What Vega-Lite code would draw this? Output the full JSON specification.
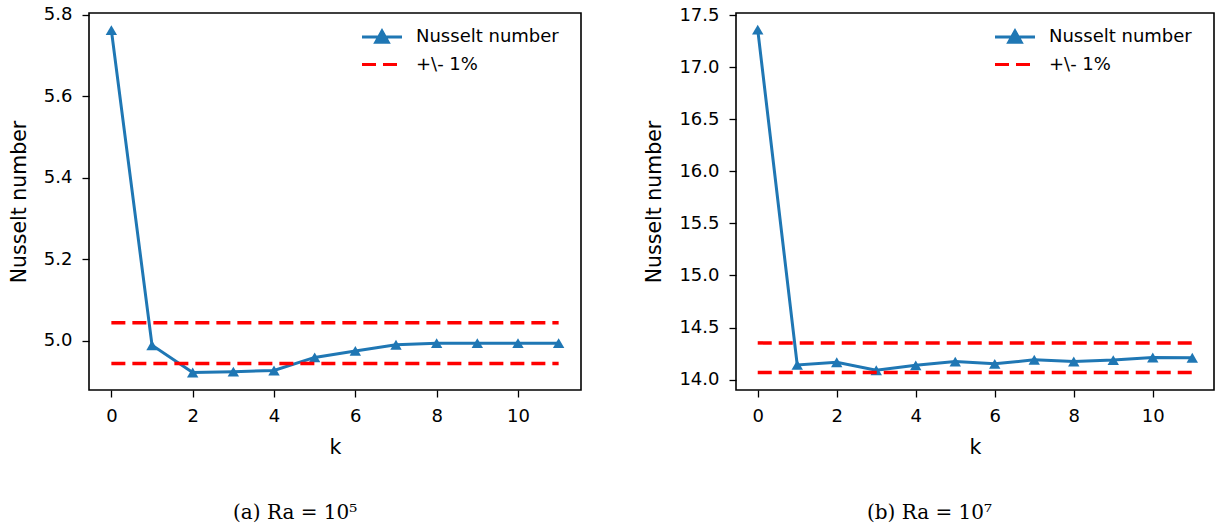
{
  "$schema": "https://vega.github.io/schema/vega-lite/v6.json",
  "padding": {"left": 8, "top": 5, "right": 0, "bottom": 0},
  "background": "white",
  "spacing": 62,
  "resolve": {"scale": {"color": "independent", "x": "independent", "y": "independent"}, "legend": {"color": "independent"}},
  "config": {
    "font": "DejaVu Sans",
    "view": {"stroke": "black", "strokeWidth": 1.6},
    "axis": {"grid": false, "domain": false, "tickColor": "black", "tickSize": 7, "tickWidth": 1.3, "labelFont": "DejaVu Sans", "labelFontSize": 18, "labelColor": "black", "labelPadding": 10, "titleFont": "DejaVu Sans", "titleFontSize": 20.5, "titleFontWeight": "normal", "titleColor": "black"},
    "legend": {"labelFont": "DejaVu Sans", "labelFontSize": 18, "labelColor": "black"}
  },
  "datasets": {
    "nuA": [
      {"k": 0, "nu": 5.7625, "series": "Nusselt number"},
      {"k": 1, "nu": 4.989, "series": "Nusselt number"},
      {"k": 2, "nu": 4.922, "series": "Nusselt number"},
      {"k": 3, "nu": 4.924, "series": "Nusselt number"},
      {"k": 4, "nu": 4.927, "series": "Nusselt number"},
      {"k": 5, "nu": 4.959, "series": "Nusselt number"},
      {"k": 6, "nu": 4.975, "series": "Nusselt number"},
      {"k": 7, "nu": 4.990, "series": "Nusselt number"},
      {"k": 8, "nu": 4.994, "series": "Nusselt number"},
      {"k": 9, "nu": 4.994, "series": "Nusselt number"},
      {"k": 10, "nu": 4.994, "series": "Nusselt number"},
      {"k": 11, "nu": 4.994, "series": "Nusselt number"}
    ],
    "bandA": [
      {"k0": 0, "k1": 11, "level": 5.044, "series": "+\\- 1%"},
      {"k0": 0, "k1": 11, "level": 4.944, "series": "+\\- 1%"}
    ],
    "nuB": [
      {"k": 0, "nu": 17.36, "series": "Nusselt number"},
      {"k": 1, "nu": 14.141, "series": "Nusselt number"},
      {"k": 2, "nu": 14.167, "series": "Nusselt number"},
      {"k": 3, "nu": 14.09, "series": "Nusselt number"},
      {"k": 4, "nu": 14.137, "series": "Nusselt number"},
      {"k": 5, "nu": 14.173, "series": "Nusselt number"},
      {"k": 6, "nu": 14.151, "series": "Nusselt number"},
      {"k": 7, "nu": 14.19, "series": "Nusselt number"},
      {"k": 8, "nu": 14.174, "series": "Nusselt number"},
      {"k": 9, "nu": 14.187, "series": "Nusselt number"},
      {"k": 10, "nu": 14.212, "series": "Nusselt number"},
      {"k": 11, "nu": 14.21, "series": "Nusselt number"}
    ],
    "bandB": [
      {"k0": 0, "k1": 11, "level": 14.352, "series": "+\\- 1%"},
      {"k0": 0, "k1": 11, "level": 14.068, "series": "+\\- 1%"}
    ]
  },
  "hconcat": [
    {
      "width": 492,
      "height": 377,
      "title": {"text": "(a) Ra = 10⁵", "orient": "bottom", "anchor": "middle", "frame": "bounds", "font": "DejaVu Serif", "fontSize": 20, "fontWeight": "normal", "color": "black", "offset": 45},
      "layer": [
        {
          "data": {"name": "nuA"},
          "mark": {"type": "line", "strokeWidth": 3},
          "encoding": {
            "x": {"field": "k", "type": "quantitative", "scale": {"domain": [-0.55, 11.55], "nice": false, "zero": false}, "axis": {"values": [0, 2, 4, 6, 8, 10], "title": "k", "titlePadding": 12}},
            "y": {"field": "nu", "type": "quantitative", "scale": {"domain": [4.879, 5.8045], "nice": false, "zero": false}, "axis": {"values": [5.0, 5.2, 5.4, 5.6, 5.8], "format": ".1f", "title": "Nusselt number", "titlePadding": 14}},
            "color": {"field": "series", "type": "nominal", "scale": {"domain": ["Nusselt number", "+\\- 1%"], "range": ["#1f77b4", "#ff0000"]},
              "legend": {"title": null, "orient": "none", "legendX": 299, "legendY": 15, "symbolSize": 100, "symbolStrokeWidth": 3, "rowPadding": 6.5, "labelOffset": 10,
                "encode": {"symbols": {"update": {
                  "shape": {"signal": "datum.value === 'Nusselt number' ? 'M-7,0L1,0M-4.25,1.05L-3,-1.2L-1.75,1.05Z' : 'M-7,0L1,0'"},
                  "strokeDash": {"signal": "datum.value === 'Nusselt number' ? [1,0] : [14,7]"},
                  "fill": {"signal": "datum.value === 'Nusselt number' ? '#1f77b4' : 'transparent'"},
                  "stroke": {"signal": "datum.value === 'Nusselt number' ? '#1f77b4' : '#ff0000'"},
                  "opacity": {"value": 1}
                }}}}}
          }
        },
        {
          "data": {"name": "nuA"},
          "mark": {"type": "point", "shape": "triangle-up", "filled": true, "size": 130, "opacity": 1},
          "encoding": {
            "x": {"field": "k", "type": "quantitative"},
            "y": {"field": "nu", "type": "quantitative"},
            "color": {"field": "series", "type": "nominal"}
          }
        },
        {
          "data": {"name": "bandA"},
          "mark": {"type": "rule", "strokeWidth": 3.5, "strokeDash": [14, 7]},
          "encoding": {
            "x": {"field": "k0", "type": "quantitative"},
            "x2": {"field": "k1"},
            "y": {"field": "level", "type": "quantitative"},
            "color": {"field": "series", "type": "nominal"}
          }
        }
      ]
    },
    {
      "width": 478,
      "height": 377,
      "title": {"text": "(b) Ra = 10⁷", "orient": "bottom", "anchor": "middle", "frame": "bounds", "font": "DejaVu Serif", "fontSize": 20, "fontWeight": "normal", "color": "black", "offset": 45},
      "layer": [
        {
          "data": {"name": "nuB"},
          "mark": {"type": "line", "strokeWidth": 3},
          "encoding": {
            "x": {"field": "k", "type": "quantitative", "scale": {"domain": [-0.55, 11.55], "nice": false, "zero": false}, "axis": {"values": [0, 2, 4, 6, 8, 10], "title": "k", "titlePadding": 12}},
            "y": {"field": "nu", "type": "quantitative", "scale": {"domain": [13.9, 17.52], "nice": false, "zero": false}, "axis": {"values": [14.0, 14.5, 15.0, 15.5, 16.0, 16.5, 17.0, 17.5], "format": ".1f", "title": "Nusselt number", "titlePadding": 14}},
            "color": {"field": "series", "type": "nominal", "scale": {"domain": ["Nusselt number", "+\\- 1%"], "range": ["#1f77b4", "#ff0000"]},
              "legend": {"title": null, "orient": "none", "legendX": 285, "legendY": 15, "symbolSize": 100, "symbolStrokeWidth": 3, "rowPadding": 6.5, "labelOffset": 10,
                "encode": {"symbols": {"update": {
                  "shape": {"signal": "datum.value === 'Nusselt number' ? 'M-7,0L1,0M-4.25,1.05L-3,-1.2L-1.75,1.05Z' : 'M-7,0L1,0'"},
                  "strokeDash": {"signal": "datum.value === 'Nusselt number' ? [1,0] : [14,7]"},
                  "fill": {"signal": "datum.value === 'Nusselt number' ? '#1f77b4' : 'transparent'"},
                  "stroke": {"signal": "datum.value === 'Nusselt number' ? '#1f77b4' : '#ff0000'"},
                  "opacity": {"value": 1}
                }}}}}
          }
        },
        {
          "data": {"name": "nuB"},
          "mark": {"type": "point", "shape": "triangle-up", "filled": true, "size": 130, "opacity": 1},
          "encoding": {
            "x": {"field": "k", "type": "quantitative"},
            "y": {"field": "nu", "type": "quantitative"},
            "color": {"field": "series", "type": "nominal"}
          }
        },
        {
          "data": {"name": "bandB"},
          "mark": {"type": "rule", "strokeWidth": 3.5, "strokeDash": [14, 7]},
          "encoding": {
            "x": {"field": "k0", "type": "quantitative"},
            "x2": {"field": "k1"},
            "y": {"field": "level", "type": "quantitative"},
            "color": {"field": "series", "type": "nominal"}
          }
        }
      ]
    }
  ]
}
